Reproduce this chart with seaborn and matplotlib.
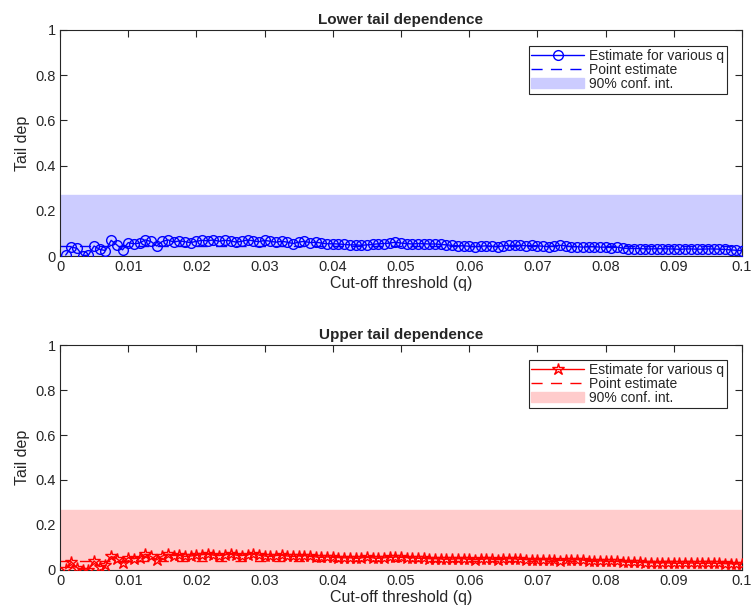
import numpy as np
import pandas as pd
import matplotlib
matplotlib.use("Agg")
import matplotlib.pyplot as plt
import seaborn as sns

# Cut-off thresholds q (120 levels up to 0.1)
q = [round(i / 1200, 6) for i in range(1, 121)]

lower_est = [
    0.005, 0.040, 0.035, 0.002, 0.005, 0.045, 0.030, 0.025, 0.070, 0.050, 0.028, 0.060,
    0.055, 0.058, 0.072, 0.065, 0.045, 0.065, 0.072, 0.062, 0.068, 0.064, 0.060, 0.066,
    0.070, 0.068, 0.072, 0.066, 0.070, 0.068, 0.062, 0.066, 0.072, 0.068, 0.064, 0.070,
    0.066, 0.062, 0.066, 0.062, 0.056, 0.062, 0.066, 0.060, 0.062, 0.058, 0.055, 0.055,
    0.054, 0.052, 0.050, 0.050, 0.048, 0.050, 0.052, 0.055, 0.056, 0.058, 0.062, 0.058,
    0.056, 0.054, 0.056, 0.055, 0.054, 0.054, 0.052, 0.050, 0.048, 0.046, 0.046, 0.044,
    0.042, 0.044, 0.046, 0.044, 0.042, 0.046, 0.048, 0.048, 0.048, 0.046, 0.048, 0.046,
    0.044, 0.042, 0.046, 0.048, 0.046, 0.042, 0.042, 0.040, 0.042, 0.042, 0.040, 0.040,
    0.038, 0.040, 0.036, 0.034, 0.034, 0.034, 0.032, 0.032, 0.033, 0.033, 0.032, 0.032,
    0.030, 0.032, 0.032, 0.031, 0.031, 0.032, 0.032, 0.031, 0.030, 0.028, 0.026, 0.025,
]

upper_est = [
    0.005, 0.035, 0.010, 0.000, 0.000, 0.040, 0.015, 0.020, 0.060, 0.050, 0.030, 0.055,
    0.050, 0.055, 0.070, 0.060, 0.045, 0.062, 0.070, 0.064, 0.066, 0.060, 0.062, 0.066,
    0.068, 0.070, 0.066, 0.064, 0.068, 0.070, 0.066, 0.064, 0.068, 0.072, 0.066, 0.062,
    0.060, 0.064, 0.066, 0.062, 0.060, 0.062, 0.064, 0.060, 0.058, 0.056, 0.058, 0.056,
    0.055, 0.054, 0.054, 0.052, 0.054, 0.056, 0.054, 0.052, 0.054, 0.056, 0.058, 0.056,
    0.055, 0.054, 0.052, 0.052, 0.050, 0.050, 0.049, 0.048, 0.048, 0.050, 0.050, 0.048,
    0.046, 0.048, 0.050, 0.048, 0.046, 0.048, 0.050, 0.049, 0.048, 0.046, 0.046, 0.045,
    0.046, 0.045, 0.044, 0.042, 0.044, 0.045, 0.046, 0.044, 0.042, 0.040, 0.040, 0.040,
    0.038, 0.038, 0.036, 0.035, 0.034, 0.034, 0.033, 0.032, 0.032, 0.032, 0.031, 0.030,
    0.030, 0.030, 0.031, 0.030, 0.029, 0.030, 0.030, 0.029, 0.028, 0.028, 0.027, 0.025,
]

# Point estimates and 90% confidence intervals
lower_point = 0.045
upper_point = 0.040
lower_ci = [0.0, 0.27]
upper_ci = [0.0, 0.265]

titles = ["Lower tail dependence", "Upper tail dependence"]
x_ticks = [0, 0.01, 0.02, 0.03, 0.04, 0.05, 0.06, 0.07, 0.08, 0.09, 0.1]
x_tick_labels = ["0", "0.01", "0.02", "0.03", "0.04", "0.05", "0.06", "0.07", "0.08", "0.09", "0.1"]
y_ticks = [0, 0.2, 0.4, 0.6, 0.8, 1]
y_tick_labels = ["0", "0.2", "0.4", "0.6", "0.8", "1"]

sns.set_style("ticks")
plt.rcParams["font.family"] = ["Liberation Sans", "DejaVu Sans"]

fig = plt.figure(figsize=(7.51, 6.10), dpi=100)
ax_top = fig.add_axes([0.0799, 0.580, 0.9081, 0.371])
ax_bot = fig.add_axes([0.0799, 0.0656, 0.9081, 0.3688])

panels = [
    (ax_top, lower_est, lower_point, lower_ci, "#0000ff", (0.8, 0.8, 1.0), "o", 7, 46),
    (ax_bot, upper_est, upper_point, upper_ci, "#ff0000", (1.0, 0.8, 0.8), "*", 9, 360),
]

edge = "#262626"
for (ax, est, pt, ci, color, fill, marker, ms, leg_top), title in zip(panels, titles):
    df = pd.DataFrame({"q": q, "est": est})
    ax.fill_between([0, 0.1], ci[0], ci[1], color=fill, edgecolor=fill,
                    linewidth=1.0, label="90% conf. int.", zorder=1)
    ax.axhline(pt, color=color, linestyle=(0, (8, 6)), linewidth=1.0,
               label="Point estimate", zorder=2)
    sns.lineplot(data=df, x="q", y="est", ax=ax, color=color, marker=marker,
                 markersize=ms, markerfacecolor="none", markeredgecolor=color,
                 markeredgewidth=1.0, linewidth=1.0,
                 label="Estimate for various q", zorder=3)

    ax.set_xlim(0, 0.1)
    ax.set_ylim(0, 1)
    ax.set_xticks(x_ticks)
    ax.set_xticklabels(x_tick_labels)
    ax.set_yticks(y_ticks)
    ax.set_yticklabels(y_tick_labels)
    ax.tick_params(direction="in", length=5, width=0.8, colors=edge,
                   labelcolor="#262626", labelsize=10.5, top=True, right=True, pad=3)
    for s in ax.spines.values():
        s.set_visible(True)
        s.set_color(edge)
        s.set_linewidth(0.8)
    ax.set_title(title, fontsize=11, fontweight="bold", pad=4)
    ax.set_xlabel("Cut-off threshold (q)", fontsize=11.5, labelpad=1)
    ax.set_ylabel("Tail dep", fontsize=11.5, labelpad=4)

    handles, labels = ax.get_legend_handles_labels()
    order = ["Estimate for various q", "Point estimate", "90% conf. int."]
    hmap = dict(zip(labels, handles))
    leg = ax.legend([hmap[k] for k in order], order, loc="upper right",
                    bbox_to_anchor=(727 / 751, 1 - leg_top / 610),
                    bbox_transform=fig.transFigure,
                    fontsize=10, frameon=True, fancybox=False,
                    edgecolor=edge, framealpha=1, borderpad=0.2,
                    labelspacing=0.0, handlelength=3.8, handletextpad=0.36,
                    borderaxespad=0)
    leg.get_frame().set_linewidth(0.8)

fig.savefig("out.png", dpi=100)
